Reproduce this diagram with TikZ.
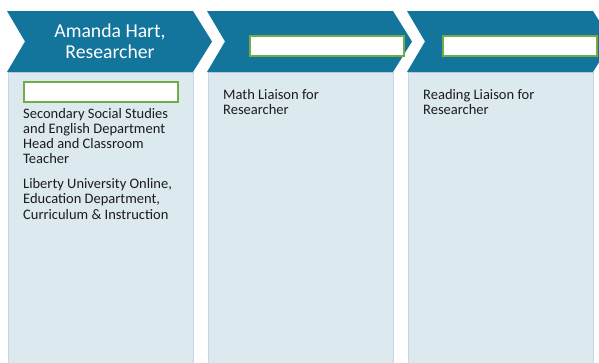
\documentclass[tikz,border=0pt]{standalone}
\usepackage{fontspec}
\setmainfont{Carlito}
\usetikzlibrary{positioning}

\definecolor{chevblue}{RGB}{19,117,156}
\definecolor{panelfill}{RGB}{220,233,239}
\definecolor{paneledge}{RGB}{200,212,232}
\definecolor{boxgreen}{RGB}{112,173,71}
\definecolor{inktext}{RGB}{28,28,28}

\begin{document}
\begin{tikzpicture}[x=1pt, y=-1pt,
  chevron/.style={fill=chevblue},
  panel/.style={fill=panelfill, draw=paneledge, line width=0.8pt},
  namebox/.style={draw=boxgreen, fill=white, line width=1.8pt,
    minimum width=154pt, minimum height=20pt, inner sep=0pt},
  headtext/.style={text=white, align=center, inner sep=0pt,
    font=\fontsize{19.7}{21.5}\selectfont},
  roletext/.style={text=inktext, align=left, inner sep=0pt,
    font=\fontsize{14.5}{15.3}\selectfont}]

  \useasboundingbox (0,0) rectangle (599,362);
  \clip (0,0) rectangle (599,362);

  % three columns: light panel under a chevron header
  \foreach \i in {0,1,2} {
    \begin{scope}[xshift={200*\i}]
      \draw[panel] (8,72) rectangle (193,375);
      \fill[chevron] (7,11) -- (25,41.5) -- (7,72) -- (193,72)
        -- (212,41.5) -- (193,11) -- cycle;
    \end{scope}
  }

  % header of the first column
  \node[headtext, anchor=north] (lead) at (110,23.6) {Amanda Hart,\\Researcher};

  % empty name boxes
  \node[namebox, anchor=north west] (leadbox) at (23,81) {};
  \node[namebox, anchor=north west] (mathbox) at (249,35) {};
  \node[namebox, anchor=north west] (readbox) at (442,35) {};

  % roles
  \node[roletext, below=5pt of leadbox.south west, anchor=north west] (leadrole)
    {Secondary Social Studies\\and English Department\\Head and Classroom\\Teacher};
  \node[roletext, below=14pt of leadrole.south west, anchor=north west] (leadschool)
    {Liberty University Online,\\Education Department,\\Curriculum \& Instruction};

  \node[roletext, anchor=north west] (mathrole) at (223,89)
    {Math Liaison for\\Researcher};
  \node[roletext, anchor=north west] (readrole) at (423,89)
    {Reading Liaison for\\Researcher};

\end{tikzpicture}
\end{document}
